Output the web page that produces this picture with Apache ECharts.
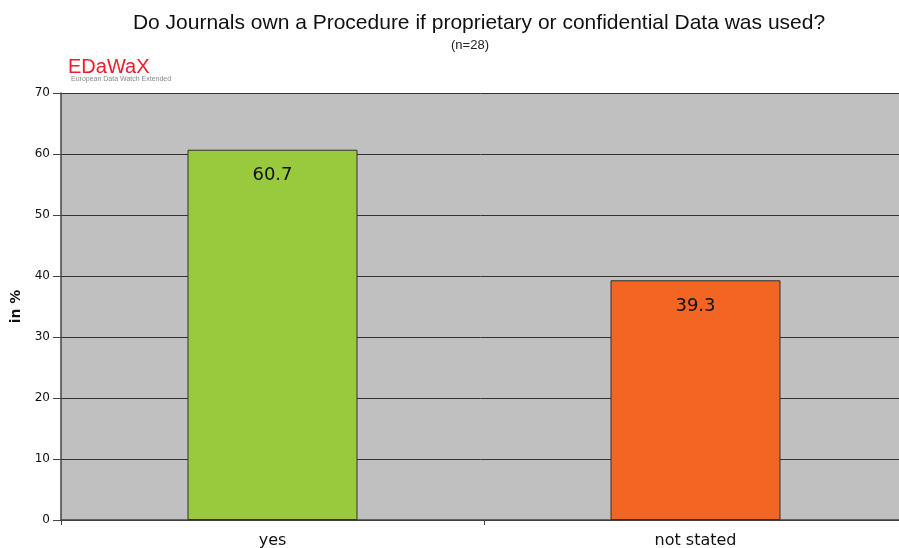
<!DOCTYPE html>
<html><head><meta charset="utf-8">
<script src="https://cdn.jsdelivr.net/npm/echarts@6/dist/echarts.min.js"></script>
<style>html,body{margin:0;padding:0;background:#fff}#c{width:899px;height:548px}</style>
</head><body><div id="c"></div>
<script>
const categories = ['yes', 'not stated'];
const values = [60.7, 39.3];
const barColors = ['#99c93c', '#f26522'];
const yTicks = [0, 10, 20, 30, 40, 50, 60, 70];

const chart = echarts.init(document.getElementById('c'));
chart.setOption({
  animation: false,
  backgroundColor: '#fff',
  title: [
    { text: 'Do Journals own a Procedure if proprietary or confidential Data was used?', left: 474, top: 8, textAlign: 'center',
      textStyle: { fontFamily: 'Liberation Sans Narrow, Arial Narrow, sans-serif', fontSize: 21, fontWeight: 'normal', color: '#111' } },
    { text: '(n=28)', left: 465, top: 34, textAlign: 'center',
      textStyle: { fontFamily: 'Liberation Sans Narrow, sans-serif', fontSize: 13, fontWeight: 'normal', color: '#222' } },
    { text: 'EDaWaX', left: 63, top: 52,
      textStyle: { fontFamily: 'Liberation Sans Narrow, sans-serif', fontSize: 20, fontWeight: 'normal', color: '#e8202a' } },
    { text: 'European Data Watch Extended', left: 66, top: 71,
      textStyle: { fontFamily: 'Liberation Sans Narrow, sans-serif', fontSize: 7, fontWeight: 'normal', color: '#888' } }
  ],
  grid: { left: 61, top: 93, width: 846, height: 427, outerBoundsMode: 'none', containLabel: false,
    show: true, backgroundColor: '#c0c0c0', borderWidth: 0 },
  xAxis: {
    type: 'category', data: categories,
    axisLine: { lineStyle: { color: '#444', width: 1.5 } },
    axisTick: { show: true, length: 5, lineStyle: { color: '#444' } },
    axisLabel: { fontFamily: 'Verdana, DejaVu Sans, sans-serif', fontSize: 16, color: '#111', margin: 13 }
  },
  yAxis: {
    type: 'value', min: yTicks[0], max: yTicks[yTicks.length - 1], interval: 10,
    name: 'in %', nameLocation: 'middle', nameGap: 38,
    nameTextStyle: { fontFamily: 'Verdana, DejaVu Sans, sans-serif', fontSize: 14, fontWeight: 'bold', color: '#111' },
    axisLine: { show: true, lineStyle: { color: '#444', width: 1.5 } },
    axisTick: { show: true, length: 8, lineStyle: { color: '#444' } },
    axisLabel: { fontFamily: 'Verdana, DejaVu Sans, sans-serif', fontSize: 12, color: '#111', margin: 11 },
    splitLine: { show: true, lineStyle: { color: '#333', width: 1 } }
  },
  series: [{
    type: 'bar',
    data: values.map((v, i) => ({ value: v, itemStyle: { color: barColors[i] } })),
    barWidth: 170,
    itemStyle: { borderColor: '#333', borderWidth: 1 },
    label: { show: true, position: 'insideTop', distance: 17,
      fontFamily: 'Verdana, DejaVu Sans, sans-serif', fontSize: 18, color: '#111',
      formatter: p => p.value.toFixed(1) }
  }]
});
</script></body></html>
